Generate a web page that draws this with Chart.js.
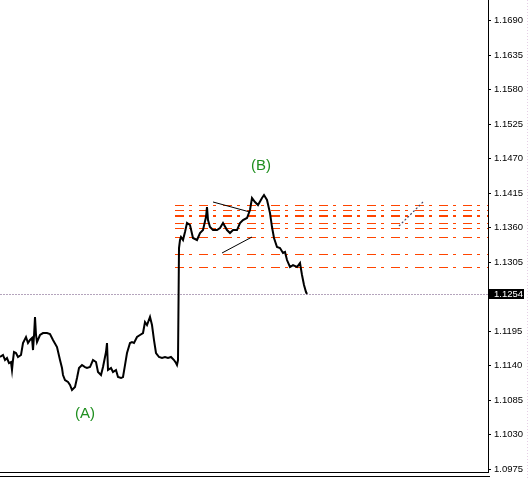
<!DOCTYPE html>
<html>
<head>
<meta charset="utf-8">
<script src="https://cdn.jsdelivr.net/npm/chart.js@4"></script>
<style>
html, body { margin: 0; padding: 0; background: #fff; }
canvas { display: block; }
</style>
</head>
<body>
<canvas id="chart" width="529" height="478"></canvas>
<script>
// price path (bar position, close)
const bars = [0, 3, 5, 7, 9, 11, 12, 13, 14, 16,
  18, 21, 23, 26, 28, 30, 32, 33, 34, 35,
  36, 37, 40, 43, 47, 50, 53, 57, 60, 62,
  63, 65, 68, 70, 72, 75, 77, 79, 82, 85,
  87, 90, 93, 96, 98, 101, 103, 106, 107, 108,
  111, 113, 116, 118, 121, 123, 125, 127, 130, 132,
  134, 137, 140, 143, 145, 147, 150, 152, 154, 156,
  159, 162, 165, 168, 171, 174, 176, 177, 178, 179,
  180, 181, 183, 185, 187, 190, 193, 197, 200, 203,
  206, 207, 208, 210, 213, 217, 220, 223, 227, 230,
  233, 237, 240, 243, 247, 250, 252, 255, 258, 262,
  264, 267, 270, 272, 274, 277, 280, 283, 285, 287,
  290, 293, 297, 300, 302, 304, 306, 307];
const closes = [1.11536, 1.11568, 1.11488, 1.11520, 1.11440, 1.11456, 1.11329, 1.11488, 1.11616, 1.11600,
  1.11536, 1.11568, 1.11759, 1.11855, 1.11759, 1.11807, 1.11839, 1.11647, 1.11871, 1.12174,
  1.11887, 1.11775, 1.11887, 1.11918, 1.11918, 1.11903, 1.11807, 1.11695, 1.11488, 1.11361,
  1.11249, 1.11169, 1.11137, 1.11090, 1.11010, 1.11058, 1.11201, 1.11361, 1.11408, 1.11376,
  1.11361, 1.11376, 1.11488, 1.11456, 1.11297, 1.11249, 1.11376, 1.11616, 1.11759, 1.11329,
  1.11361, 1.11297, 1.11329, 1.11217, 1.11201, 1.11217, 1.11408, 1.11600, 1.11759, 1.11775,
  1.11759, 1.11855, 1.11887, 1.11918, 1.12094, 1.12046, 1.12174, 1.12046, 1.11807, 1.11600,
  1.11536, 1.11520, 1.11536, 1.11520, 1.11536, 1.11488, 1.11440, 1.11408, 1.11488, 1.13273,
  1.13401, 1.13449, 1.13401, 1.13529, 1.13672, 1.13640, 1.13433, 1.13401, 1.13513, 1.13560,
  1.13768, 1.13927, 1.13720, 1.13608, 1.13560, 1.13560, 1.13592, 1.13672, 1.13560, 1.13513,
  1.13560, 1.13560, 1.13672, 1.13720, 1.13752, 1.13879, 1.14070, 1.14007, 1.13959, 1.14070,
  1.14118, 1.14039, 1.13831, 1.13608, 1.13433, 1.13289, 1.13273, 1.13194, 1.13210, 1.13082,
  1.12971, 1.13002, 1.12971, 1.13034, 1.12843, 1.12684, 1.12572, 1.1254];

const levels = [1.1396, 1.1388, 1.1380, 1.1378, 1.1367, 1.1359, 1.1345, 1.1318, 1.1297];
const levelFrom = 175;
const lastBar = 488;
const lastPrice = 1.1254;

const tickValues = [1.0975, 1.1030, 1.1085, 1.1140, 1.1195, 1.1305, 1.1360, 1.1415,
  1.1470, 1.1525, 1.1580, 1.1635, 1.1690];

// wave lines (bar, price)
const trendA = [[213, 1.14007], [250, 1.13847]];
const trendB = [[222, 1.13194], [252, 1.13449]];
const projection = [[399, 1.13624], [423, 1.14007]];

const waveNames = ['(A)', '(B)'];
const waveBars = [85, 261];
const wavePrices = [1.1063, 1.1458];

const toPts = arr => arr.map(p => ({ x: p[0], y: p[1] }));

const datasets = [];
datasets.push({
  data: bars.map((b, i) => ({ x: b, y: closes[i] })),
  borderColor: '#000',
  borderWidth: 2,
  pointRadius: 0
});
datasets.push({ data: toPts(trendA), borderColor: '#000', borderWidth: 1, pointRadius: 0 });
datasets.push({ data: toPts(trendB), borderColor: '#000', borderWidth: 1, pointRadius: 0 });
datasets.push({ data: toPts(projection), borderColor: '#4a4a66', borderWidth: 1.2, borderDash: [2, 2], pointRadius: 0 });
levels.forEach(l => {
  datasets.push({
    data: [{ x: levelFrom, y: l }, { x: lastBar, y: l }],
    borderColor: '#ff4500',
    borderWidth: 1,
    borderDash: [9, 5, 3, 7],
    pointRadius: 0,
    flat: true
  });
});
datasets.push({
  data: [{ x: 0, y: lastPrice }, { x: lastBar, y: lastPrice }],
  borderColor: '#b4a4bc',
  borderWidth: 1,
  borderDash: [2, 1],
  pointRadius: 0,
  flat: true
});

// keep the horizontal lines on whole pixels so they stay crisp
const snap = {
  id: 'snap',
  beforeDatasetsDraw(chart) {
    chart.data.datasets.forEach((ds, i) => {
      if (!ds.flat) return;
      chart.getDatasetMeta(i).data.forEach(pt => { pt.y = Math.round(pt.y) + 0.5; });
    });
  }
};

const extras = {
  id: 'extras',
  afterDraw(chart) {
    const c = chart.ctx;
    const xs = chart.scales.x, ys = chart.scales.y;
    const area = chart.chartArea;
    c.save();

    // frame lines at the bottom
    c.strokeStyle = '#000';
    c.lineWidth = 1;
    c.beginPath();
    c.moveTo(0, area.bottom + 0.5); c.lineTo(area.right + 1, area.bottom + 0.5);
    c.moveTo(0, area.bottom + 4.5); c.lineTo(area.right + 2, area.bottom + 4.5);
    c.stroke();

    // faint right edge
    c.strokeStyle = '#e6cfe6';
    c.setLineDash([1, 2]);
    c.beginPath();
    c.moveTo(527.5, 0); c.lineTo(527.5, chart.height);
    c.stroke();
    c.setLineDash([]);

    // current price tag
    const py = Math.round(ys.getPixelForValue(lastPrice));
    c.fillStyle = '#000';
    c.fillRect(area.right + 1, py - 5, 35, 10);
    c.fillStyle = '#fff';
    c.font = "9.5px 'Liberation Sans'";
    c.textBaseline = 'middle';
    c.textAlign = 'left';
    c.fillText(lastPrice.toFixed(4), area.right + 6, py + 0.5);

    // wave labels
    c.fillStyle = '#1f8f1f';
    c.font = "15px 'Liberation Sans'";
    c.textAlign = 'center';
    waveNames.forEach((n, i) => {
      c.fillText(n, xs.getPixelForValue(waveBars[i]), ys.getPixelForValue(wavePrices[i]));
    });
    c.restore();
  }
};

new Chart(document.getElementById('chart'), {
  type: 'line',
  data: { datasets },
  plugins: [snap, extras],
  options: {
    responsive: false,
    animation: false,
    layout: { padding: { top: 0, left: 0, right: 0, bottom: 6 } },
    plugins: { legend: { display: false }, tooltip: { enabled: false } },
    elements: { line: { tension: 0 } },
    scales: {
      x: { type: 'linear', min: 0, max: lastBar, display: false },
      y: {
        position: 'right',
        min: 1.09703,
        max: 1.17227,
        border: { display: true, color: '#000', width: 1 },
        grid: { drawOnChartArea: false, drawTicks: true, tickLength: 3, color: '#000' },
        ticks: {
          color: '#000',
          padding: 3,
          autoSkip: false,
          font: { family: 'Liberation Sans', size: 9.5 },
          callback: v => Number(v).toFixed(4)
        },
        afterBuildTicks: s => { s.ticks = tickValues.map(v => ({ value: v })); },
        afterFit: s => { s.width = 41; s.paddingTop = 0; s.paddingBottom = 0; }
      }
    }
  }
});
</script>
</body>
</html>
